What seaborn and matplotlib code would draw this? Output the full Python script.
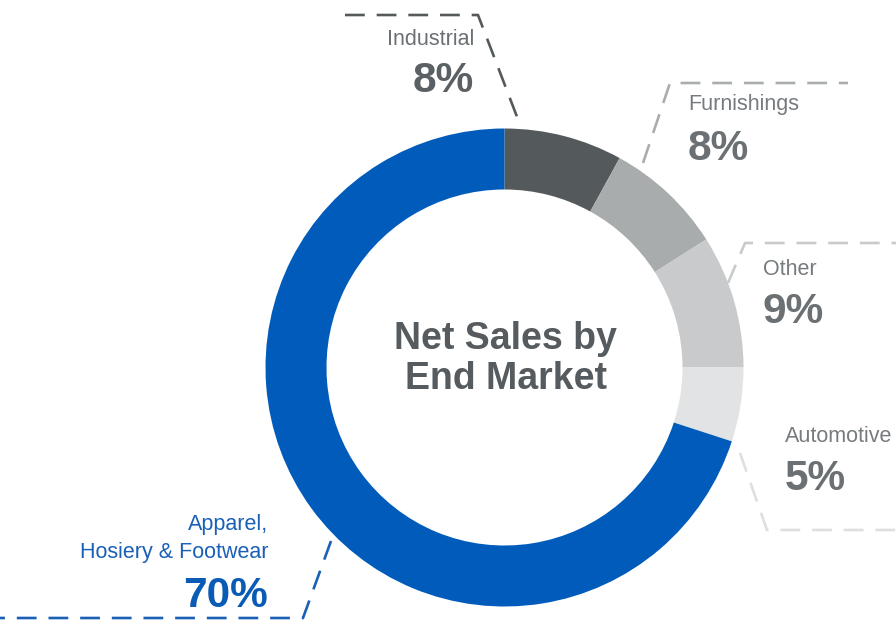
import matplotlib
matplotlib.use("Agg")
import matplotlib.pyplot as plt
import seaborn as sns

# ---- data ----
categories = ["Industrial", "Furnishings", "Other", "Automotive", "Apparel,\nHosiery & Footwear"]
shares = [8, 8, 9, 5, 70]
seg_colors = ["#545a5c", "#a8acad", "#c8cacb", "#e2e3e4", "#005bbb"]
title_text = "Net Sales by\nEnd Market"

sns.set_theme(style="white")
plt.rcParams["font.family"] = ["Liberation Sans", "DejaVu Sans"]

W, H = 896, 626
fig = plt.figure(figsize=(W / 100, H / 100), dpi=100)
ax = fig.add_axes([0, 0, 1, 1])

def Y(p):
    return H - p

cx, cy, R, ring = 504.5, 367.5, 239, 61
ax.pie(shares, colors=seg_colors, startangle=90, counterclock=False,
       center=(cx, Y(cy)), radius=R, frame=True,
       wedgeprops=dict(width=ring, linewidth=0))
ax.set_xlim(0, W)
ax.set_ylim(0, H)
ax.set_aspect("equal")
ax.axis("off")

# center title
t1, t2 = title_text.split("\n")
tc = "#555b5e"
ax.text(cx + 1, Y(349), t1, ha="center", va="baseline", fontsize=27,
        fontweight="bold", color=tc)
ax.text(cx + 1, Y(389), t2, ha="center", va="baseline", fontsize=27,
        fontweight="bold", color=tc)

# callout layout: (dashed path, label anchor x, ha, name baselines, pct baseline, text colors)
dash = (0, (7.5, 4.5))
lw = 1.9
layout = [
    dict(path=[(345, 15), (478, 15), (519, 122)], x=474, ha="right",
         nb=[45], pb=92, lc="#545a5c", nc="#6a7073", pc="#5a6063"),
    dict(path=[(643, 163), (670, 83), (848, 83)], x=688, ha="left",
         nb=[110], pb=160, lc="#a9adae", nc="#767b7e", pc="#6a7073"),
    dict(path=[(728, 283), (745, 243), (896, 243)], x=763, ha="left",
         nb=[275], pb=323, lc="#c8cacb", nc="#767b7e", pc="#6a7073"),
    dict(path=[(740, 453), (767, 530), (896, 530)], x=785, ha="left",
         nb=[442], pb=490, lc="#dedfe0", nc="#767b7e", pc="#6a7073"),
    dict(path=[(331, 541), (303, 618), (0, 618)], x=268, ha="right",
         nb=[530, 558], pb=607, lc="#1a60b6", nc="#1a60b6", pc="#0a5bb5"),
]

for cat, val, lay in zip(categories, shares, layout):
    xs = [p[0] for p in lay["path"]]
    ys = [Y(p[1]) for p in lay["path"]]
    ax.plot(xs, ys, color=lay["lc"], lw=lw, linestyle=dash,
            solid_capstyle="butt", dash_capstyle="butt")
    for line, b in zip(cat.split("\n"), lay["nb"]):
        ax.text(lay["x"], Y(b), line, ha=lay["ha"], va="baseline",
                fontsize=15.5, color=lay["nc"])
    ax.text(lay["x"], Y(lay["pb"]), f"{val}%", ha=lay["ha"], va="baseline",
            fontsize=30.5, fontweight="bold", color=lay["pc"])

fig.savefig("out.png", dpi=100, facecolor="white")
